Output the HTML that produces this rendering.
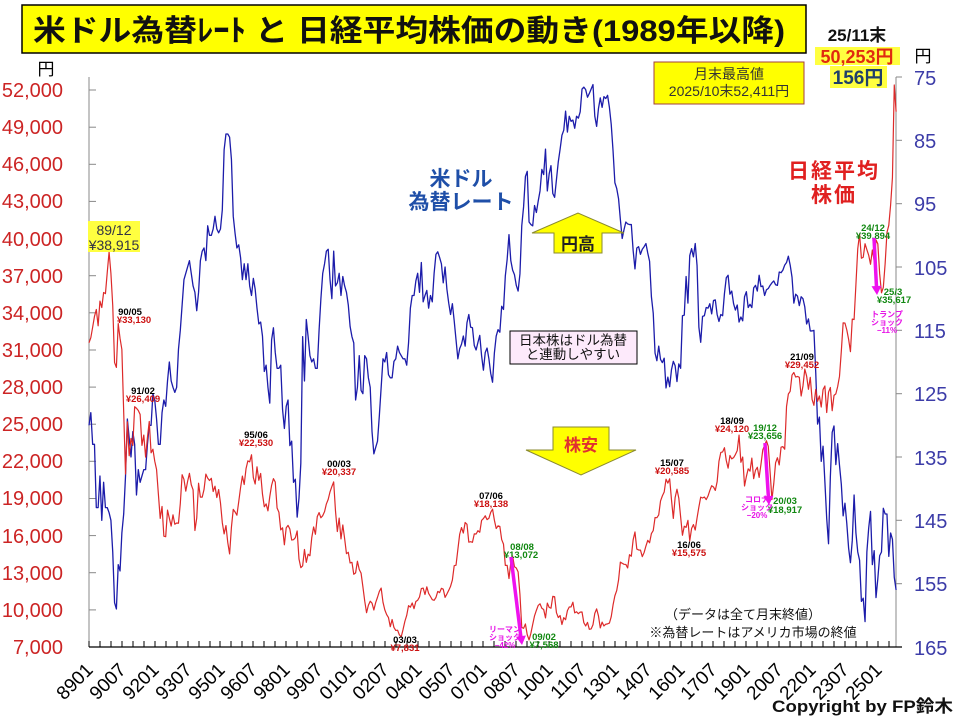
<!DOCTYPE html>
<html><head><meta charset="utf-8"><style>
html,body{margin:0;padding:0;background:#fff;}
svg{display:block;}
.jp{font-family:"Liberation Sans","Noto Sans CJK JP",sans-serif;}
.d{font-family:"Liberation Sans","Noto Sans CJK JP",sans-serif;font-size:9.5px;font-weight:bold;text-anchor:middle;}
.k{fill:#000;}
.r{fill:#cc1111;}
.g{fill:#118811;}
.m{fill:#e614e6;font-size:8px;}
.la{font-family:"Liberation Sans",sans-serif;font-size:20px;fill:#cc2424;text-anchor:end;}
.ra{font-family:"Liberation Sans",sans-serif;font-size:20px;fill:#3c3ca8;}
.xa{font-family:"Liberation Sans",sans-serif;font-size:19px;fill:#000;text-anchor:end;}
</style></head><body>
<svg width="960" height="720" viewBox="0 0 960 720" xmlns="http://www.w3.org/2000/svg">
<rect width="960" height="720" fill="#fff"/>

<!-- Title -->
<rect x="22" y="5" width="784" height="48" fill="#ffff00" stroke="#000" stroke-width="1.5"/>
<text class="jp" x="33" y="41" font-size="30" font-weight="bold" fill="#111" textLength="752" lengthAdjust="spacingAndGlyphs">米ドル為替ﾚｰﾄ と 日経平均株価の動き(1989年以降)</text>

<!-- top right info -->
<text class="jp" x="857" y="41" font-size="17" font-weight="bold" fill="#111" text-anchor="middle">25/11末</text>
<rect x="815" y="47" width="85" height="18" fill="#ffff40"/>
<text class="jp" x="857" y="63" font-size="18" font-weight="bold" fill="#e02a10" text-anchor="middle">50,253円</text>
<rect x="830" y="66" width="57" height="22" fill="#ffff40"/>
<text class="jp" x="858" y="84" font-size="19" font-weight="bold" fill="#1f3f6a" text-anchor="middle">156円</text>

<rect x="654" y="62" width="150" height="42" fill="#ffff00" stroke="#a04040" stroke-width="1"/>
<text class="jp" x="729" y="79" font-size="14" fill="#333" text-anchor="middle">月末最高値</text>
<text class="jp" x="729" y="96" font-size="14" fill="#333" text-anchor="middle">2025/10末52,411円</text>

<text class="jp" x="46" y="75" font-size="17" fill="#000" text-anchor="middle">円</text>
<text class="jp" x="923" y="62" font-size="17" fill="#000" text-anchor="middle">円</text>

<!-- axes -->
<line x1="89" y1="77" x2="89" y2="647" stroke="#888" stroke-width="1"/>
<line x1="896" y1="77" x2="896" y2="647" stroke="#888" stroke-width="1"/>
<line x1="89" y1="647" x2="902" y2="647" stroke="#000" stroke-width="1.3"/>

<g stroke="#888" stroke-width="1">
<line x1="89" y1="90" x2="96" y2="90"/><line x1="89" y1="127.2" x2="96" y2="127.2"/>
<line x1="89" y1="164.3" x2="96" y2="164.3"/><line x1="89" y1="201.4" x2="96" y2="201.4"/>
<line x1="89" y1="238.6" x2="96" y2="238.6"/><line x1="89" y1="275.7" x2="96" y2="275.7"/>
<line x1="89" y1="312.8" x2="96" y2="312.8"/><line x1="89" y1="350" x2="96" y2="350"/>
<line x1="89" y1="387.1" x2="96" y2="387.1"/><line x1="89" y1="424.2" x2="96" y2="424.2"/>
<line x1="89" y1="461.3" x2="96" y2="461.3"/><line x1="89" y1="498.5" x2="96" y2="498.5"/>
<line x1="89" y1="535.6" x2="96" y2="535.6"/><line x1="89" y1="572.7" x2="96" y2="572.7"/>
<line x1="89" y1="609.9" x2="96" y2="609.9"/>
<line x1="896" y1="77" x2="902" y2="77"/><line x1="896" y1="140.3" x2="902" y2="140.3"/>
<line x1="896" y1="203.7" x2="902" y2="203.7"/><line x1="896" y1="267" x2="902" y2="267"/>
<line x1="896" y1="330.3" x2="902" y2="330.3"/><line x1="896" y1="393.7" x2="902" y2="393.7"/>
<line x1="896" y1="457" x2="902" y2="457"/><line x1="896" y1="520.3" x2="902" y2="520.3"/>
<line x1="896" y1="583.7" x2="902" y2="583.7"/>
</g>

<!-- left labels -->
<text class="la" x="63" y="97">52,000</text>
<text class="la" x="63" y="134">49,000</text>
<text class="la" x="63" y="171">46,000</text>
<text class="la" x="63" y="208">43,000</text>
<text class="la" x="63" y="246">40,000</text>
<text class="la" x="63" y="283">37,000</text>
<text class="la" x="63" y="320">34,000</text>
<text class="la" x="63" y="357">31,000</text>
<text class="la" x="63" y="394">28,000</text>
<text class="la" x="63" y="431">25,000</text>
<text class="la" x="63" y="468">22,000</text>
<text class="la" x="63" y="505">19,000</text>
<text class="la" x="63" y="543">16,000</text>
<text class="la" x="63" y="580">13,000</text>
<text class="la" x="63" y="617">10,000</text>
<text class="la" x="63" y="654">7,000</text>

<!-- right labels -->
<text class="ra" x="914" y="85">75</text>
<text class="ra" x="914" y="148">85</text>
<text class="ra" x="914" y="211">95</text>
<text class="ra" x="914" y="275">105</text>
<text class="ra" x="914" y="338">115</text>
<text class="ra" x="914" y="401">125</text>
<text class="ra" x="914" y="465">135</text>
<text class="ra" x="914" y="528">145</text>
<text class="ra" x="914" y="591">155</text>
<text class="ra" x="914" y="655">165</text>

<!-- bottom ticks every 6 months -->
<path stroke="#000" stroke-width="1" fill="none" d="M89,641V647M100,641V647M111,641V647M122,641V647M133,641V647M144,641V647M155,641V647M166,641V647M177,641V647M188,641V647M199,641V647M210,641V647M220,641V647M231,641V647M242,641V647M253,641V647M264,641V647M275,641V647M286,641V647M297,641V647M308,641V647M319,641V647M330,641V647M341,641V647M352,641V647M363,641V647M374,641V647M385,641V647M396,641V647M407,641V647M418,641V647M429,641V647M440,641V647M451,641V647M461,641V647M472,641V647M483,641V647M494,641V647M505,641V647M516,641V647M527,641V647M538,641V647M549,641V647M560,641V647M571,641V647M582,641V647M593,641V647M604,641V647M615,641V647M626,641V647M637,641V647M648,641V647M659,641V647M670,641V647M681,641V647M692,641V647M702,641V647M713,641V647M724,641V647M735,641V647M746,641V647M757,641V647M768,641V647M779,641V647M790,641V647M801,641V647M812,641V647M823,641V647M834,641V647M845,641V647M856,641V647M867,641V647M878,641V647M889,641V647"/>

<!-- bottom labels -->
<g>
<text class="xa" transform="translate(94,671) rotate(-45)">8901</text>
<text class="xa" transform="translate(127,671) rotate(-45)">9007</text>
<text class="xa" transform="translate(160,671) rotate(-45)">9201</text>
<text class="xa" transform="translate(193,671) rotate(-45)">9307</text>
<text class="xa" transform="translate(226,671) rotate(-45)">9501</text>
<text class="xa" transform="translate(258,671) rotate(-45)">9607</text>
<text class="xa" transform="translate(291,671) rotate(-45)">9801</text>
<text class="xa" transform="translate(324,671) rotate(-45)">9907</text>
<text class="xa" transform="translate(357,671) rotate(-45)">0101</text>
<text class="xa" transform="translate(390,671) rotate(-45)">0207</text>
<text class="xa" transform="translate(423,671) rotate(-45)">0401</text>
<text class="xa" transform="translate(456,671) rotate(-45)">0507</text>
<text class="xa" transform="translate(488,671) rotate(-45)">0701</text>
<text class="xa" transform="translate(521,671) rotate(-45)">0807</text>
<text class="xa" transform="translate(554,671) rotate(-45)">1001</text>
<text class="xa" transform="translate(587,671) rotate(-45)">1107</text>
<text class="xa" transform="translate(620,671) rotate(-45)">1301</text>
<text class="xa" transform="translate(653,671) rotate(-45)">1407</text>
<text class="xa" transform="translate(686,671) rotate(-45)">1601</text>
<text class="xa" transform="translate(718,671) rotate(-45)">1707</text>
<text class="xa" transform="translate(751,671) rotate(-45)">1901</text>
<text class="xa" transform="translate(784,671) rotate(-45)">2007</text>
<text class="xa" transform="translate(817,671) rotate(-45)">2201</text>
<text class="xa" transform="translate(850,671) rotate(-45)">2307</text>
<text class="xa" transform="translate(883,671) rotate(-45)">2501</text>
</g>

<!-- USD/JPY series -->
<polyline fill="none" stroke="#1c1caa" stroke-width="1.3" stroke-linejoin="round" vector-effect="non-scaling-stroke" transform="matrix(1.826 0 0 6.333 89 -397.98)" points="0,130 1,128 2,133 3,133 4,143 5,143 6,138 7,145 8,139 9,143 10,143 11,143.8 12,145 13,150 14,158 15,159 16,152 17,153 18,147 19,144 20,138 21,129 22,132 23,135 24,131 25,133 26,141 27,137 28,139 29,138 30,137 31,137 32,133 33,130 34,130 35,125 36,126 37,129 38,133 39,133 40,128 41,126 42,127 43,123 44,120 45,123 46,124 47,124.8 48,124 49,118 50,115 51,111 52,107 53,106 54,105 55,104 56,106 57,108 58,109 59,111.9 60,109 61,104 62,102.5 63,102 64,104 65,98.5 66,100 67,100 68,99 69,97 70,99 71,99.6 72,99 73,96 74,86.5 75,84 76,84 77,84.5 78,88 79,97 80,99.7 81,102 82,101.5 83,103.5 84,107 85,104.5 86,107 87,104.5 88,108 89,109.5 90,106.8 91,108.5 92,111.5 93,114 94,113.7 95,115.9 96,121.5 97,120.5 98,124 99,126.5 100,116.5 101,114.6 102,118.5 103,121 104,121 105,120.5 106,127.5 107,130.5 108,127 109,126 110,133.2 111,132.5 112,139 113,138.5 114,144.5 115,141.5 116,136 117,116 118,123 119,113.3 120,116 121,119 122,120 123,119.5 124,121 125,121 126,115 127,110 128,106 129,104.5 130,102.5 131,102.2 132,107 133,110 134,102.5 135,108 136,107.5 137,106 138,109.5 139,106.5 140,108 141,109 142,111 143,114.4 144,116 145,117 146,126 147,124 148,119 149,124.5 150,125 151,119 152,119.5 153,122.5 154,124 155,131 156,134.5 157,133.5 158,132.5 159,128.5 160,124 161,119.5 162,120 163,118.5 164,122 165,122.5 166,122.5 167,119.9 168,119.5 169,117.5 170,118.5 171,119 172,119.5 173,119.5 174,120.5 175,117 176,111.5 177,109.5 178,109.5 179,107.2 180,106 181,109 182,104.3 183,110.5 184,109.5 185,108.7 186,111.5 187,109.5 188,110.5 189,106 190,103 191,102.6 192,103.5 193,104.5 194,107.5 195,105 196,108.5 197,110.7 198,112.5 199,110.8 200,113.5 201,116.5 202,119.5 203,117.9 204,117.2 205,115.9 206,117.5 207,113.8 208,112.5 209,114.5 210,114.6 211,117.4 212,118.1 213,116.9 214,115.8 215,119 216,121.3 217,118.5 218,117.8 219,119.5 220,121.8 221,123.2 222,118.6 223,115.9 224,114.9 225,115.3 226,111.2 227,111.7 228,106.4 229,103.8 230,99.9 231,104 232,105.5 233,106.2 234,107.9 235,108.8 236,106.1 237,98.5 238,95.5 239,90.7 240,89.9 241,97.9 242,98.3 243,98.5 244,95.3 245,96.4 246,94.6 247,93 248,89.6 249,90.4 250,86.4 251,93 252,90.3 253,89 254,93.4 255,94 256,91.2 257,88.4 258,86.4 259,84.2 260,83.4 261,80.4 262,83.7 263,81.2 264,82 265,81.8 266,83.1 267,81.2 268,81.5 269,80.5 270,76.9 271,76.6 272,77 273,78.2 274,77.6 275,76.9 276,76.2 277,81.2 278,82.8 279,80 280,78.3 281,79.8 282,78.1 283,78.4 284,77.9 285,79.8 286,82.5 287,86.7 288,91.7 289,92.6 290,94.2 291,97.5 292,100.5 293,99.1 294,97.9 295,98.2 296,98.3 297,98.3 298,102.4 299,105.3 300,102 301,101.8 302,103 303,102.2 304,101.8 305,101.3 306,102.8 307,104.1 308,109.7 309,112.3 310,118.6 311,119.8 312,117.5 313,119.6 314,120.1 315,119.4 316,124.1 317,122.4 318,123.9 319,121.2 320,119.9 321,120.6 322,123.1 323,120.3 324,121 325,112.7 326,112.6 327,106.5 328,110.7 329,103.2 330,102.1 331,103.4 332,101.3 333,104.8 334,114.5 335,116.9 336,112.8 337,112.7 338,111.4 339,111.5 340,110.8 341,112.4 342,110.3 343,110.2 344,112.5 345,113.6 346,112.5 347,112.7 348,109.2 349,106.7 350,106.3 351,109.3 352,108.8 353,110.8 354,111.8 355,111 356,113.7 357,112.9 358,113.5 359,109.7 360,108.9 361,111.4 362,110.9 363,111.4 364,108.3 365,107.9 366,108.8 367,106.3 368,108.1 369,108 370,109.5 371,108.6 372,108.4 373,107.9 374,107.5 375,107.2 376,107.8 377,107.9 378,105.8 379,105.9 380,105.5 381,104.7 382,104.3 383,103.3 384,104.7 385,106.6 386,110.7 387,109.3 388,109.6 389,111.1 390,109.7 391,110 392,111.3 393,114 394,113.2 395,115.1 396,115.1 397,115 398,121.7 399,129.8 400,128.7 401,135.7 402,133.3 403,138.9 404,144.7 405,148.7 406,138.1 407,131.1 408,130.1 409,136.2 410,132.9 411,136.3 412,139.3 413,144.3 414,142.3 415,145.5 416,149.4 417,151.7 418,148.2 419,141 420,147 421,150 422,151.3 423,157.8 424,157.3 425,161 426,150 427,146.2 428,143.6 429,152 430,149.8 431,157.2 432,154.2 433,150.6 434,150 435,143.1 436,144 437,144 438,150.7 439,147 440,148 441,154 442,156"/>

<!-- Nikkei series -->
<polyline fill="none" stroke="#dd2a2a" stroke-width="1.2" stroke-linejoin="round" vector-effect="non-scaling-stroke" transform="matrix(1.826 0 0 -12.377 89 733.64)" points="0,31.58 1,31.99 2,32.84 3,33.71 4,34.27 5,32.95 6,34.95 7,34.43 8,35.64 9,35.55 10,37.27 11,38.92 12,37.19 13,34.59 14,29.98 15,29.59 16,33.13 17,31.94 18,31.04 19,25.98 20,20.98 21,25.19 22,22.45 23,23.85 24,23.29 25,26.41 26,26.29 27,26.11 28,25.79 29,23.29 30,24.12 31,22.34 32,23.92 33,25.22 34,22.69 35,22.98 36,22.02 37,21.34 38,19.35 39,17.39 40,18.35 41,15.95 42,15.91 43,18.06 44,17.40 45,16.77 46,17.68 47,16.92 48,17.02 49,17.00 50,18.59 51,20.92 52,20.55 53,19.59 54,20.38 55,21.03 56,20.11 57,19.70 58,16.41 59,17.42 60,20.23 61,19.11 62,19.11 63,19.73 64,20.97 65,20.64 66,20.45 67,20.63 68,19.56 69,19.99 70,19.08 71,19.72 72,18.65 73,17.05 74,16.14 75,16.81 76,15.44 77,14.52 78,16.68 79,18.12 80,17.91 81,17.65 82,18.74 83,19.87 84,20.81 85,20.13 86,21.41 87,22.04 88,21.96 89,22.53 90,20.69 91,20.17 92,21.56 93,20.47 94,21.02 95,19.36 96,18.33 97,18.56 98,18.00 99,19.15 100,20.07 101,20.60 102,20.33 103,18.23 104,17.89 105,16.46 106,16.63 107,15.26 108,16.63 109,16.83 110,16.53 111,15.64 112,15.67 113,15.83 114,16.38 115,14.11 116,13.41 117,13.56 118,14.88 119,13.84 120,14.50 121,14.37 122,15.84 123,16.70 124,16.11 125,17.53 126,17.86 127,17.44 128,17.61 129,17.94 130,18.56 131,18.93 132,19.54 133,19.96 134,20.34 135,17.97 136,16.33 137,17.41 138,15.73 139,16.86 140,15.75 141,14.54 142,14.65 143,13.79 144,13.84 145,12.88 146,12.99 147,13.93 148,13.26 149,12.97 150,11.86 151,10.71 152,9.77 153,10.37 154,10.70 155,10.54 156,9.99 157,10.59 158,11.02 159,11.49 160,11.76 161,10.62 162,10.00 163,9.62 164,9.38 165,8.64 166,9.22 167,8.58 168,8.34 169,8.36 170,7.97 171,7.83 172,8.42 173,9.08 174,9.56 175,10.34 176,10.22 177,10.56 178,10.10 179,10.68 180,10.78 181,11.04 182,11.72 183,11.76 184,11.24 185,11.86 186,11.33 187,11.08 188,10.82 189,10.77 190,11.00 191,11.49 192,11.39 193,11.74 194,11.67 195,11.01 196,11.28 197,11.58 198,11.90 199,12.41 200,13.57 201,13.61 202,14.87 203,16.11 204,16.65 205,16.21 206,17.06 207,16.91 208,15.47 209,15.51 210,15.46 211,16.14 212,16.13 213,16.40 214,16.27 215,17.23 216,17.38 217,17.60 218,17.29 219,17.40 220,17.88 221,18.14 222,17.25 223,16.57 224,16.79 225,16.74 226,15.68 227,15.31 228,13.59 229,13.60 230,12.53 231,13.85 232,14.34 233,13.48 234,13.38 235,13.07 236,11.26 237,8.58 238,8.51 239,8.86 240,7.99 241,7.57 242,8.11 243,8.83 244,9.52 245,9.96 246,10.36 247,10.49 248,10.13 249,10.03 250,9.35 251,10.55 252,10.20 253,10.13 254,11.09 255,11.06 256,9.77 257,9.38 258,9.54 259,8.82 260,9.37 261,9.20 262,9.94 263,10.23 264,10.24 265,10.62 266,9.76 267,9.85 268,9.69 269,9.82 270,9.83 271,8.96 272,8.70 273,8.99 274,8.43 275,8.46 276,8.80 277,9.72 278,10.08 279,9.52 280,8.54 281,9.01 282,8.70 283,8.84 284,8.87 285,8.93 286,9.45 287,10.40 288,11.14 289,11.56 290,12.40 291,13.86 292,13.77 293,13.68 294,13.67 295,13.39 296,14.46 297,14.33 298,15.66 299,16.29 300,14.91 301,14.84 302,14.83 303,14.30 304,14.63 305,15.16 306,15.62 307,15.42 308,16.17 309,16.41 310,17.46 311,17.45 312,17.67 313,18.80 314,19.21 315,19.52 316,20.56 317,20.24 318,20.59 319,18.89 320,17.39 321,19.08 322,19.75 323,19.03 324,17.52 325,16.03 326,16.76 327,16.67 328,17.23 329,15.58 330,16.57 331,16.89 332,16.45 333,17.43 334,18.31 335,19.11 336,19.04 337,19.12 338,18.91 339,19.20 340,19.65 341,20.03 342,19.93 343,19.65 344,20.36 345,22.01 346,22.72 347,22.76 348,23.10 349,22.07 350,21.45 351,22.47 352,22.20 353,22.30 354,22.55 355,22.87 356,24.12 357,21.92 358,22.35 359,20.01 360,20.77 361,21.39 362,21.21 363,22.26 364,20.60 365,21.28 366,21.52 367,20.70 368,21.76 369,22.93 370,23.29 371,23.66 372,23.21 373,21.14 374,18.92 375,20.19 376,21.88 377,22.29 378,21.71 379,23.14 380,23.19 381,22.98 382,26.43 383,27.44 384,27.66 385,28.97 386,29.18 387,28.81 388,28.86 389,28.79 390,27.28 391,28.09 392,29.45 393,28.89 394,27.82 395,28.79 396,27.00 397,26.53 398,27.82 399,26.85 400,27.28 401,26.39 402,27.80 403,28.09 404,25.94 405,27.59 406,27.97 407,26.09 408,27.33 409,27.45 410,28.04 411,28.86 412,30.89 413,33.19 414,33.17 415,32.62 416,31.86 417,30.86 418,33.49 419,33.46 420,36.29 421,39.17 422,40.37 423,38.41 424,38.49 425,39.58 426,39.10 427,38.65 428,37.92 429,39.08 430,38.21 431,39.89 432,39.57 433,37.16 434,35.62 435,36.05 436,37.97 437,40.49 438,41.07 439,42.72 440,44.93 441,52.41 442,50.25"/>

<!-- series titles -->
<text class="jp" x="461" y="186" font-size="21" font-weight="bold" fill="#1f4fa8" text-anchor="middle">米ドル</text>
<text class="jp" x="461" y="209" font-size="21" font-weight="bold" fill="#1f4fa8" text-anchor="middle">為替レート</text>
<text class="jp" x="834" y="178" font-size="21" font-weight="bold" fill="#e02020" text-anchor="middle" letter-spacing="2">日経平均</text>
<text class="jp" x="834" y="202" font-size="21" font-weight="bold" fill="#e02020" text-anchor="middle" letter-spacing="2">株価</text>

<!-- arrows 円高 / 株安 -->
<polygon points="532,233 578,213 624,233 602,233 602,253 554,253 554,233" fill="#ffff00" stroke="#8a8a30" stroke-width="1"/>
<text class="jp" x="578" y="250" font-size="17" font-weight="bold" fill="#222" text-anchor="middle">円高</text>
<polygon points="553,427 609,427 609,450 636,450 581,475 526,450 553,450" fill="#ffff00" stroke="#8a8a30" stroke-width="1"/>
<text class="jp" x="581" y="451" font-size="17" font-weight="bold" fill="#e03030" text-anchor="middle">株安</text>

<!-- pink note -->
<rect x="510" y="331" width="127" height="33" fill="#fdeafb" stroke="#000" stroke-width="1"/>
<text class="jp" x="573" y="345" font-size="13.5" fill="#111" text-anchor="middle">日本株はドル為替</text>
<text class="jp" x="573" y="359" font-size="13.5" fill="#111" text-anchor="middle">と連動しやすい</text>

<!-- bottom notes -->
<text class="jp" x="743" y="619" font-size="13" fill="#111" text-anchor="middle">（データは全て月末終値）</text>
<text class="jp" x="753" y="637" font-size="13" fill="#111" text-anchor="middle">※為替レートはアメリカ市場の終値</text>

<!-- 89/12 highlight -->
<rect x="88" y="221" width="52" height="31" fill="#ffff40"/>
<text class="jp" x="114" y="235" font-size="14" fill="#333344" text-anchor="middle">89/12</text>
<text class="jp" x="114" y="250" font-size="14" fill="#333344" text-anchor="middle">¥38,915</text>

<!-- annotations -->
<text class="d k" x="130" y="315">90/05</text><text class="d r" x="134" y="323">¥33,130</text>
<text class="d k" x="143" y="394">91/02</text><text class="d r" x="143" y="402">¥26,409</text>
<text class="d k" x="256" y="438">95/06</text><text class="d r" x="256" y="446">¥22,530</text>
<text class="d k" x="339" y="467">00/03</text><text class="d r" x="339" y="475">¥20,337</text>
<text class="d k" x="405" y="643">03/03</text><text class="d r" x="405" y="651">¥7,831</text>
<text class="d k" x="491" y="499">07/06</text><text class="d r" x="491" y="507">¥18,138</text>
<text class="d g" x="522" y="550">08/08</text><text class="d g" x="521" y="558">¥13,072</text>
<text class="d g" x="544" y="640">09/02</text><text class="d g" x="544" y="648">¥7,568</text>
<text class="d k" x="672" y="466">15/07</text><text class="d r" x="672" y="474">¥20,585</text>
<text class="d k" x="689" y="548">16/06</text><text class="d r" x="689" y="556">¥15,575</text>
<text class="d k" x="732" y="424">18/09</text><text class="d r" x="732" y="432">¥24,120</text>
<text class="d g" x="765" y="431">19/12</text><text class="d g" x="765" y="439">¥23,656</text>
<text class="d g" x="785" y="504">20/03</text><text class="d g" x="785" y="513">¥18,917</text>
<text class="d k" x="802" y="360">21/09</text><text class="d r" x="802" y="368">¥29,452</text>
<text class="d g" x="873" y="231">24/12</text><text class="d g" x="873" y="239">¥39,894</text>
<text class="d g" x="893" y="295">25/3</text><text class="d g" x="894" y="303">¥35,617</text>

<text class="d m" x="505" y="632">リーマン</text><text class="d m" x="505" y="640">ショック</text><text class="d m" x="505" y="648">−42%</text>
<text class="d m" x="757" y="502">コロナ</text><text class="d m" x="757" y="510">ショック</text><text class="d m" x="757" y="518">−20%</text>
<text class="d m" x="887" y="317">トランプ</text><text class="d m" x="887" y="325">ショック</text><text class="d m" x="887" y="333">−11%</text>

<!-- magenta arrows -->
<g fill="#ee11ee" stroke="#ee11ee">
<line x1="511" y1="557" x2="520.9" y2="637" stroke-width="3.5"/>
<polygon points="525.9,635.5 515.9,636.7 522,645" stroke="none"/>
<line x1="765" y1="443" x2="768.4" y2="497" stroke-width="3.5"/>
<polygon points="773.4,495.7 763.4,496.3 769,505" stroke="none"/>
<line x1="874" y1="238" x2="876.5" y2="287" stroke-width="3.5"/>
<polygon points="881.5,285.7 871.5,286.3 877,295" stroke="none"/>
</g>

<!-- copyright -->
<text class="jp" x="772" y="712" font-size="17" font-weight="bold" fill="#111" textLength="181" lengthAdjust="spacingAndGlyphs">Copyright by FP鈴木</text>
</svg>
</body></html>
